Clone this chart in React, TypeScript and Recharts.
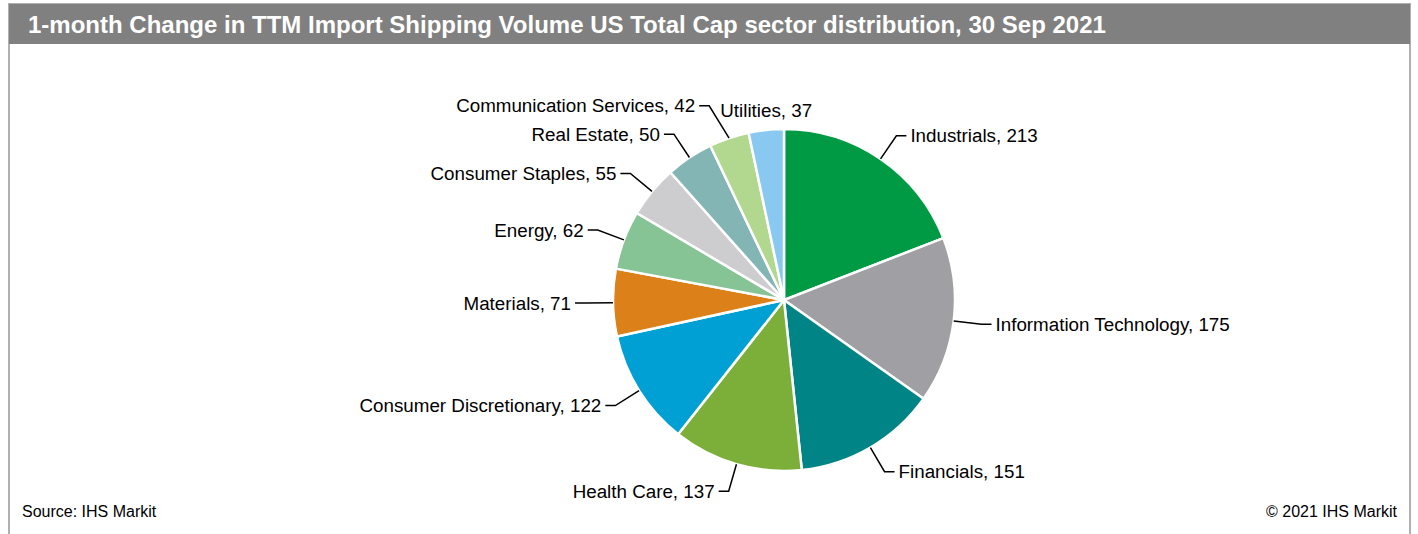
import React from 'react';
import { PieChart, Pie, Cell } from 'recharts';

const sectors = [
    'Industrials', 'Information Technology', 'Financials', 'Health Care',
    'Consumer Discretionary', 'Materials', 'Energy', 'Consumer Staples',
    'Real Estate', 'Communication Services', 'Utilities'
];
const counts = [213, 175, 151, 137, 122, 71, 62, 55, 50, 42, 37];
const sliceColors = [
    '#009A44', '#A0A0A4', '#008486', '#7CAF3A', '#00A0D4', '#DC8019',
    '#86C495', '#CDCDCF', '#84B5B5', '#B2D78F', '#89C8F0'
];

const data = sectors.map((name, i) => ({ name, value: counts[i] }));

const RAD = Math.PI / 180;
const font = '"Liberation Sans", Arial, sans-serif';
const labelSize = 18.8;
const CX = 784;
const CY = 300;
const R = 171;
const BASE_EXT = 28;

const measure = (() => {
    let ctx: CanvasRenderingContext2D | null = null;
    return (s: string) => {
        if (!ctx) ctx = document.createElement('canvas').getContext('2d');
        if (!ctx) return s.length * labelSize * 0.5;
        ctx.font = `${labelSize}px "Liberation Sans", Arial, sans-serif`;
        return ctx.measureText(s).width;
    };
})();

type Leader = { ext: number; shift: number };

// bend leader lines away where a side label would run into the top-centred one
function layoutLabels(): Leader[] {
    const total = counts.reduce((a, b) => a + b, 0);
    let acc = 0;
    const mids = counts.map(v => {
        const m = 90 - ((acc + v / 2) / total) * 360;
        acc += v;
        return m;
    });
    const out: Leader[] = counts.map(() => ({ ext: BASE_EXT, shift: 0 }));
    const tops: { left: number; right: number; y: number }[] = [];
    mids.forEach((m, i) => {
        const cos = Math.cos(-m * RAD), sin = Math.sin(-m * RAD);
        if (Math.abs(cos) < 0.15 && sin < 0) {
            const w = measure(`${sectors[i]}, ${counts[i]}`);
            const x = CX + R * cos;
            tops.push({ left: x - w / 2, right: x + w / 2, y: CY + R * sin - 19 });
        }
    });
    mids.forEach((m, i) => {
        const cos = Math.cos(-m * RAD), sin = Math.sin(-m * RAD);
        if (Math.abs(cos) < 0.15) return;
        const dir = cos >= 0 ? 1 : -1;
        const sx = CX + R * cos, sy = CY + R * sin;
        for (let k = 0; k < 30; k++) {
            const ext = BASE_EXT + 2 * k, shift = 3 * k;
            const ex = CX + (R + ext) * cos + dir * shift;
            const ey = CY + (R + ext) * sin;
            const pts: [number, number][] = [];
            for (let s = 0; s <= 20; s++) pts.push([sx + (ex - sx) * s / 20, sy + (ey - sy) * s / 20]);
            for (let s = 0; s <= 5; s++) pts.push([ex + dir * 2 * s, ey]);
            const hit = tops.some(t => pts.some(([px, py]) =>
                Math.abs(py - t.y) < 9 && px > t.left - 3 && px < t.right + 3));
            if (!hit) {
                out[i] = { ext, shift };
                break;
            }
        }
    });
    return out;
}

let leaders: Leader[] | null = null;

const renderLabel = (props: any) => {
    const { cx, cy, midAngle, outerRadius, name, value, index } = props;
    if (!leaders) leaders = layoutLabels();
    const { ext, shift } = leaders[index] ?? { ext: BASE_EXT, shift: 0 };
    const cos = Math.cos(-midAngle * RAD);
    const sin = Math.sin(-midAngle * RAD);
    const right = cos >= 0;
    const sx = cx + outerRadius * cos;
    const sy = cy + outerRadius * sin;
    const ex = cx + (outerRadius + ext) * cos + (right ? shift : -shift);
    const ey = cy + (outerRadius + ext) * sin;
    const text = `${name}, ${value}`;

    // near the top / bottom: text sits above or below the leader
    if (Math.abs(cos) < 0.15) {
        const below = sin > 0;
        return (
            <g>
                {below && <line x1={sx} y1={sy} x2={sx} y2={ey - 8} stroke="#000" strokeWidth={1.5} />}
                <text x={sx} y={below ? ey + 3 : sy - 19} textAnchor={below ? 'end' : 'middle'}
                    dominantBaseline="central" fill="#000" fontSize={labelSize} fontFamily={font}>
                    {text}
                </text>
            </g>
        );
    }
    const hx = ex + (right ? 10 : -10);
    return (
        <g>
            <polyline points={`${sx},${sy} ${ex},${ey} ${hx},${ey}`} fill="none" stroke="#000" strokeWidth={1.5} />
            <text x={hx + (right ? 4 : -4)} y={ey} textAnchor={right ? 'start' : 'end'}
                dominantBaseline="central" fill="#000" fontSize={labelSize} fontFamily={font}>
                {text}
            </text>
        </g>
    );
};

export default function App() {
    return (
        <div style={{ position: 'absolute', left: 0, top: 0, width: 1418, height: 534, background: '#fff', fontFamily: font }}>
            <div style={{
                position: 'absolute', left: 8, top: 3, width: 1403, height: 540,
                border: '2px solid #B0B0B0', boxSizing: 'border-box'
            }} />
            <div style={{
                position: 'absolute', left: 9, top: 4, width: 1401, height: 40, background: '#808080',
                color: '#fff', fontWeight: 'bold', fontSize: 24, lineHeight: '41px', paddingLeft: 19,
                boxSizing: 'border-box', whiteSpace: 'nowrap'
            }}>
                1-month Change in TTM Import Shipping Volume US Total Cap sector distribution, 30 Sep 2021
            </div>
            <div style={{ position: 'absolute', left: 0, top: 0 }}>
                <PieChart width={1418} height={534} margin={{ top: 0, right: 0, bottom: 0, left: 0 }}>
                    <Pie
                        data={data}
                        dataKey="value"
                        nameKey="name"
                        cx={CX}
                        cy={CY}
                        outerRadius={R}
                        startAngle={90}
                        endAngle={-270}
                        stroke="#fff"
                        strokeWidth={2.5}
                        label={renderLabel}
                        labelLine={false}
                        isAnimationActive={false}
                    >
                        {data.map((d, i) => (
                            <Cell key={d.name} fill={sliceColors[i]} />
                        ))}
                    </Pie>
                </PieChart>
            </div>
            <div style={{ position: 'absolute', left: 22, top: 503, fontSize: 16, color: '#000' }}>Source: IHS Markit</div>
            <div style={{ position: 'absolute', right: 21, top: 503, fontSize: 16, color: '#000' }}>© 2021 IHS Markit</div>
        </div>
    );
}
